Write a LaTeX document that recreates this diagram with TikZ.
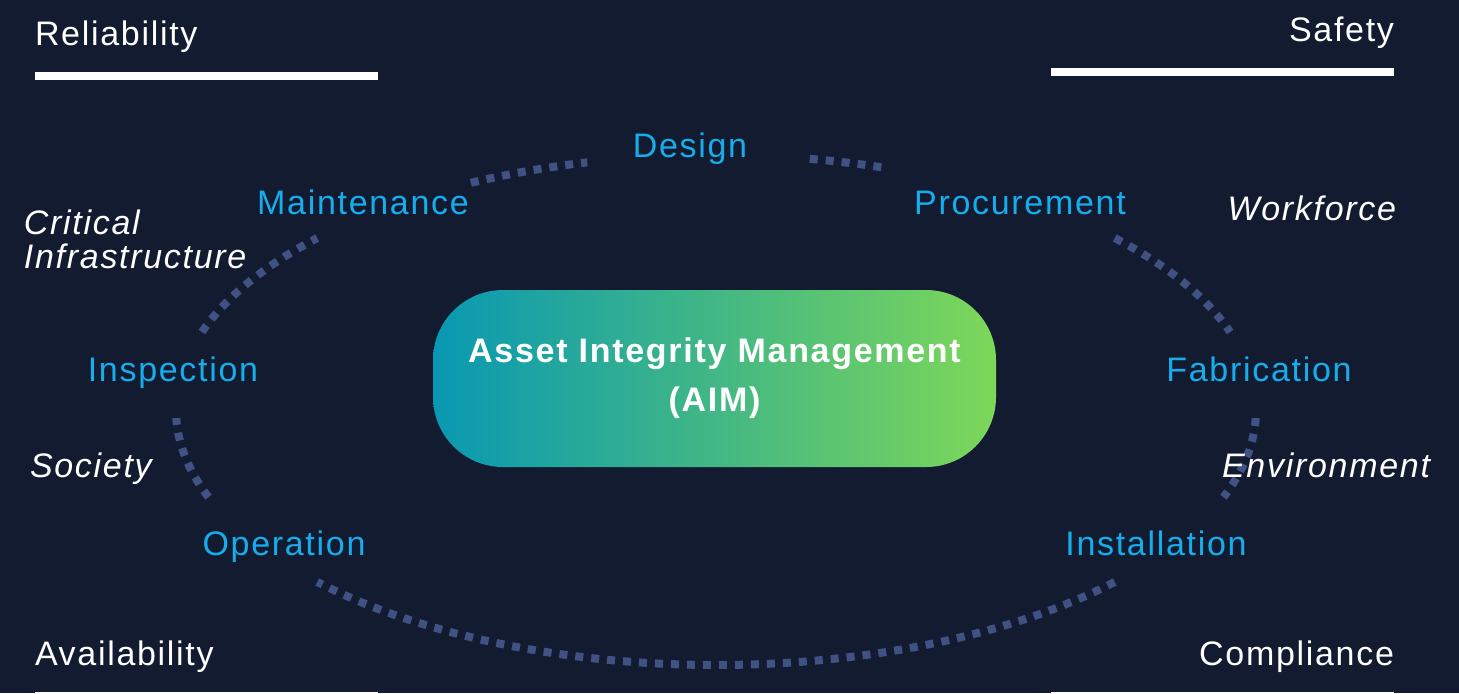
\documentclass[tikz,border=0pt]{standalone}
\usepackage{fontspec}
\setmainfont[LetterSpace=5]{Liberation Sans}
\definecolor{bgnavy}{HTML}{131B30}
\definecolor{ringc}{HTML}{405283}
\definecolor{cyanlab}{HTML}{16ADEC}
\definecolor{aimleft}{HTML}{0898B2}
\definecolor{aimright}{HTML}{7DD758}
\begin{document}
\begin{tikzpicture}[x=0.5pt,y=-0.5pt,
  every node/.style={inner sep=0pt, outer sep=0pt, font=\fontsize{17}{20.4}\selectfont},
  stage/.style={text=cyanlab, anchor=base},
  corner/.style={text=white},
  factor/.style={text=white, font=\fontsize{17}{17.5}\selectfont\itshape},
  bar/.style={fill=white, draw=none},
  ring/.style={draw=ringc, line width=4pt, dash pattern=on 4pt off 4pt},
  aimbox/.style={rounded corners=35pt, left color=aimleft, right color=aimright,
    minimum width=281.5pt, minimum height=88.5pt, text=white, align=center,
    font=\fontsize{17}{24.5}\selectfont\bfseries}]
\useasboundingbox[fill=bgnavy] (0,0) rectangle (1459,693);

% dotted ring
\foreach \a/\b in {117/103.8, 80/72.1, 42.4/17.8, -1.8/-20, -42.4/-137.6, -160/-178.2, 162.2/137.6}
  \draw[ring] plot[domain=\a:\b, samples=60] ({716+540*cos(\x)},{410-255*sin(\x)});

% centre
\node[aimbox] (aim) at (714.5,378.5) {Asset Integrity Management\\(AIM)};

% corner titles and bars
\node[corner, anchor=base west] (rel) at (35,45) {Reliability};
\node[corner, anchor=base east] (saf) at (1394,41) {Safety};
\node[corner, anchor=base west] (ava) at (35,665) {Availability};
\node[corner, anchor=base east] (com) at (1394,665) {Compliance};
\fill[bar] (35,72) rectangle (378,80);
\fill[bar] (1051,68) rectangle (1394,76);
\fill[bar] (35,692) rectangle (378,700);
\fill[bar] (1051,692) rectangle (1394,700);

% stages
\node[stage] (design) at (690,157) {Design};
\node[stage] (maint) at (363,214) {Maintenance};
\node[stage] (proc) at (1020,214) {Procurement};
\node[stage] (insp) at (173,381) {Inspection};
\node[stage] (fab) at (1259,381) {Fabrication};
\node[stage] (oper) at (284,555) {Operation};
\node[stage] (inst) at (1156,555) {Installation};

% factors
\node[factor, anchor=base west] (crit1) at (24,234) {Critical};
\node[factor, anchor=base west] (crit2) at (24,268) {Infrastructure};
\node[factor, anchor=base east] (work) at (1396,220) {Workforce};
\node[factor, anchor=base west] (soc) at (30,477) {Society};
\node[factor, anchor=base east] (env) at (1430,477) {Environment};
\end{tikzpicture}
\end{document}
